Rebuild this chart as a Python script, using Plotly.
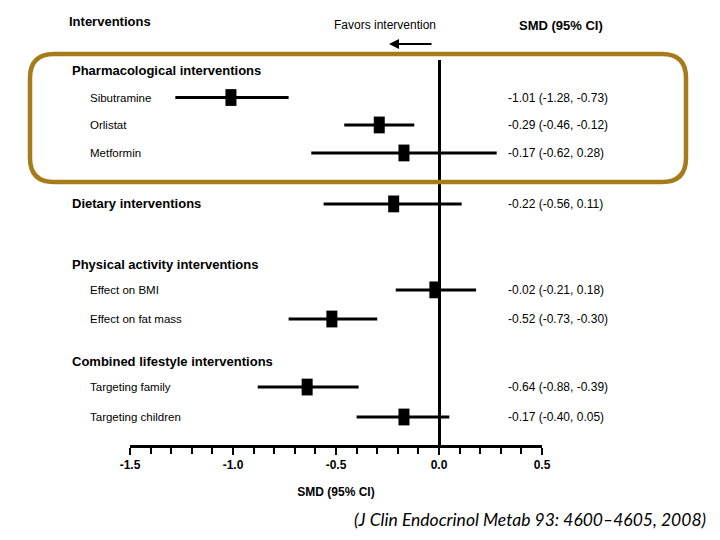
import plotly.graph_objects as go

# ---------------- data ----------------
studies = ["Sibutramine", "Orlistat", "Metformin", "Dietary interventions",
           "Effect on BMI", "Effect on fat mass", "Targeting family", "Targeting children"]
smd = [-1.01, -0.29, -0.17, -0.22, -0.02, -0.52, -0.64, -0.17]
ci_low = [-1.28, -0.46, -0.62, -0.56, -0.21, -0.73, -0.88, -0.40]
ci_high = [-0.73, -0.12, 0.28, 0.11, 0.18, -0.30, -0.39, 0.05]
bold_rows = [False, False, False, True, False, False, False, False]

group_headers = ["Pharmacological interventions", "Physical activity interventions",
                 "Combined lifestyle interventions"]

tick_values = [-1.5, -1.0, -0.5, 0.0, 0.5]
tick_labels = ["-1.5", "-1.0", "-0.5", "0.0", "0.5"]

# ---------------- layout (row slots) ----------------
row_y = [1.34, 2.32, 3.32, 5.14, 8.21, 9.25, 11.68, 12.75]
header_y = [0.39, 7.32, 10.75]

FONT = "Liberation Sans, Arial, sans-serif"
GOLD = "#A67C1B"

W, H = 720, 540
ML, MR, MT, MB = 130, 178, 60, 95
PW, PH = W - ML - MR, H - MT - MB


def px(xp):
    return (xp - ML) / PW


def py(yp):
    return (H - MB - yp) / PH


def xdata(xp):
    return -1.5 + (xp - ML) / PW * 2.0


fig = go.Figure()

fig.add_trace(go.Scatter(
    x=smd, y=row_y, mode="markers",
    marker=dict(symbol="line-ns", size=12, color="black",
                line=dict(width=11, color="black")),
    error_x=dict(type="data", symmetric=False,
                 array=[h - s for h, s in zip(ci_high, smd)],
                 arrayminus=[s - l for s, l in zip(smd, ci_low)],
                 thickness=3, width=0, color="black"),
    showlegend=False, hoverinfo="skip", cliponaxis=False,
))

annotations = []
# left labels
for name, y, b in zip(studies, row_y, bold_rows):
    annotations.append(dict(
        x=px(70 if b else 88), y=y, xref="paper", yref="y",
        text=f"<b>{name}</b>" if b else name, showarrow=False,
        xanchor="left", yanchor="middle",
        font=dict(family=FONT, size=13 if b else 11.5, color="black")))
for name, y in zip(group_headers, header_y):
    annotations.append(dict(
        x=px(70), y=y, xref="paper", yref="y",
        text=f"<b>{name}</b>", showarrow=False,
        xanchor="left", yanchor="middle",
        font=dict(family=FONT, size=13, color="black")))
# right column values
for s, l, h, y in zip(smd, ci_low, ci_high, row_y):
    annotations.append(dict(
        x=px(506), y=y, xref="paper", yref="y",
        text=f"{s:.2f} ({l:.2f}, {h:.2f})", showarrow=False,
        xanchor="left", yanchor="middle",
        font=dict(family=FONT, size=12, color="black")))
# top headers
annotations += [
    dict(x=px(67), y=py(22), xref="paper", yref="paper", text="<b>Interventions</b>",
         showarrow=False, xanchor="left", yanchor="middle",
         font=dict(family=FONT, size=13, color="black")),
    dict(x=px(385), y=py(25), xref="paper", yref="paper", text="Favors intervention",
         showarrow=False, xanchor="center", yanchor="middle",
         font=dict(family=FONT, size=12, color="black")),
    dict(x=px(517), y=py(25), xref="paper", yref="paper", text="<b>SMD (95% CI)</b>",
         showarrow=False, xanchor="left", yanchor="middle",
         font=dict(family=FONT, size=13, color="black")),
    dict(x=xdata(389), y=py(44), xref="x", yref="paper", text="",
         showarrow=True, ax=xdata(433), ay=0, axref="x", ayref="pixel",
         arrowhead=2, arrowsize=1, arrowwidth=2, arrowcolor="black"),
    dict(x=px(708), y=py(519), xref="paper", yref="paper",
         text="(J Clin Endocrinol Metab 93: 4600\u20134605, 2008)",
         showarrow=False, xanchor="right", yanchor="middle",
         font=dict(family="Lato, Open Sans, sans-serif", size=17.5, color="black",
                   style="italic")),
]

# rounded highlight box
x0, x1, y0, y1, r = 30, 686, 54, 182, 24
X0, X1, Y0, Y1 = px(x0), px(x1), py(y0), py(y1)
rx, ry = r / PW, r / PH
path = (f"M {X0+rx},{Y0} L {X1-rx},{Y0} Q {X1},{Y0} {X1},{Y0-ry} "
        f"L {X1},{Y1+ry} Q {X1},{Y1} {X1-rx},{Y1} "
        f"L {X0+rx},{Y1} Q {X0},{Y1} {X0},{Y1+ry} "
        f"L {X0},{Y0-ry} Q {X0},{Y0} {X0+rx},{Y0} Z")

fig.update_layout(
    width=W, height=H,
    margin=dict(l=ML, r=MR, t=MT, b=MB),
    paper_bgcolor="white", plot_bgcolor="white",
    annotations=annotations,
    shapes=[dict(type="path", path=path, xref="paper", yref="paper",
                 line=dict(color=GOLD, width=4.5), fillcolor="rgba(0,0,0,0)")],
    xaxis=dict(
        range=[-1.5, 0.5], showgrid=False,
        zeroline=True, zerolinecolor="black", zerolinewidth=2.5,
        showline=True, linecolor="black", linewidth=3,
        ticks="outside", ticklen=7, tickwidth=2, tickcolor="black",
        tickvals=tick_values, ticktext=tick_labels,
        tickfont=dict(family=FONT, size=12, color="black", weight="bold"),
        minor=dict(dtick=0.1, tick0=0, ticks="outside", ticklen=6, tickwidth=2,
                   tickcolor="black", showgrid=False),
        title=dict(text="<b>SMD (95% CI)</b>", standoff=17,
                   font=dict(family=FONT, size=12, color="black")),
        fixedrange=True,
    ),
    yaxis=dict(range=[13.75, 0], showgrid=False, zeroline=False, showline=False,
               showticklabels=False, ticks="", fixedrange=True),
)

fig.write_html("out.html", config={"displayModeBar": False},
               post_script="document.body.style.margin='0';document.body.style.padding='0';")
